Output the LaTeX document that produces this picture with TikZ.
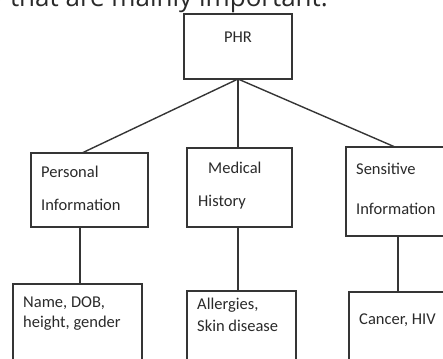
\documentclass[tikz,border=0pt]{standalone}
\usepackage{fontspec}
\setmainfont{Carlito}
\newfontfamily\topfont{Open Sans}
\definecolor{ln}{HTML}{353535}
\definecolor{tx}{HTML}{2A2A2A}
\begin{document}
\begin{tikzpicture}[x=1pt,y=1pt,
  box/.style={draw=ln, line width=1.4pt, inner sep=0pt, outer sep=0pt, anchor=north west, fill=white},
  conn/.style={draw=ln, line width=1.4pt},
  lbl/.style={font=\fontsize{16.5}{20}\selectfont, text=tx, inner sep=0pt, anchor=mid west}]
\useasboundingbox (0,0) rectangle (443,-358);
\clip (0,0) rectangle (443,-358);
\node[font=\topfont\fontsize{26}{30}\selectfont, text=tx, inner sep=0pt, anchor=base east] (caption) at (328,-7) {y that are mainly important.};
% boxes
\node[box, minimum width=108, minimum height=65] (phr) at (184,-14) {};
\node[box, minimum width=117, minimum height=74] (pers) at (31,-153) {};
\node[box, minimum width=105, minimum height=79] (med) at (187,-148) {};
\node[box, minimum width=114, minimum height=89] (sens) at (346,-147) {};
\node[box, minimum width=129, minimum height=90] (persc) at (13,-284) {};
\node[box, minimum width=109, minimum height=80] (medc) at (187,-291) {};
\node[box, minimum width=111, minimum height=80] (sensc) at (349,-292) {};
% connector end points
\coordinate (persTop) at (82,-153);
\coordinate (sensTop) at (395,-147);
\coordinate (persBot) at (80,-227);
\coordinate (medBot) at (238,-227);
\coordinate (sensBot) at (398,-236);
\draw[conn] (phr.south) -- (persTop);
\draw[conn] (phr.south) -- (phr.south |- med.north);
\draw[conn] (phr.south) -- (sensTop);
\draw[conn] (persBot) -- (persBot |- persc.north);
\draw[conn] (medBot) -- (medBot |- medc.north);
\draw[conn] (sensBot) -- (sensBot |- sensc.north);
% texts
\node[lbl, anchor=center] (tphr) at (238,-37) {PHR};
\node[lbl] (tpers1) at (41,-175) {Personal};
\node[lbl] (tpers2) at (41,-208) {Information};
\node[lbl] (tmed1) at (208,-171) {Medical};
\node[lbl] (tmed2) at (198,-204) {History};
\node[lbl] (tsens1) at (356,-172) {Sensitive};
\node[lbl] (tsens2) at (356,-212) {Information};
\node[lbl] (tpc1) at (23,-305) {Name, DOB,};
\node[lbl] (tpc2) at (23,-325) {height, gender};
\node[lbl] (tmc1) at (197,-307) {Allergies,};
\node[lbl] (tmc2) at (197,-329) {Skin disease};
\node[lbl] (tsc1) at (359,-322) {Cancer, HIV};
\end{tikzpicture}
\end{document}
